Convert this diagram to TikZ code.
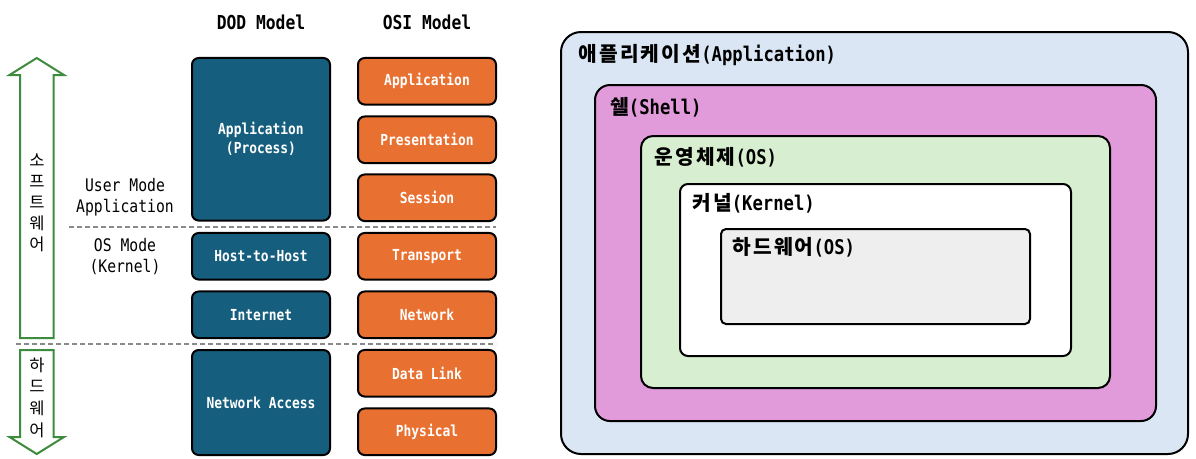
\documentclass[tikz,border=0pt]{standalone}
\usepackage{fontspec}
\setmainfont{DejaVu Sans Mono}[FakeStretch=0.85]
\newfontfamily\korfont{Noto Sans CJK KR}
\newfontfamily\korwide{Noto Sans CJK KR}[LetterSpace=11]
\newcommand\kor[1]{{\korwide #1}}
\definecolor{dodblue}{HTML}{165E7E}
\definecolor{osiorange}{HTML}{E87030}
\definecolor{arrowgreen}{HTML}{3D8B3D}
\definecolor{sepgray}{HTML}{8A8A8A}
\definecolor{appblue}{HTML}{DAE6F3}
\definecolor{shellpink}{HTML}{E19ADA}
\definecolor{osgreen}{HTML}{D7EFD0}
\definecolor{hwgray}{HTML}{EEEEEE}
\tikzset{
  layerbox/.style={draw=black, line width=1.5pt, rounded corners=5pt, minimum width=103.5pt,
    minimum height=34.9pt, inner sep=0pt, text=white, align=center,
    font=\fontsize{11.4}{14.25}\selectfont\bfseries},
  dodbox/.style={layerbox, fill=dodblue},
  osibox/.style={layerbox, fill=osiorange},
  header/.style={font=\fontsize{14.4}{17}\selectfont\bfseries},
  modetext/.style={align=center, font=\fontsize{13}{15.75}\selectfont},
  bigarrow/.style={draw=arrowgreen, line width=1.5pt, fill=white, line join=miter},
  sep/.style={draw=sepgray, line width=1.5pt, dash pattern=on 3.75pt off 2.25pt},
  nest/.style={draw=black, line width=1.5pt, inner sep=0pt},
  nestlabel/.style={anchor=west, inner sep=0pt, font=\fontsize{15.2}{18}\selectfont\bfseries},
}
\begin{document}
\begin{tikzpicture}[x=0.75pt, y=-0.75pt]
\useasboundingbox (0,0) rectangle (1196,458);

% headers
\node[header] (dodh) at (261,22) {DOD Model};
\node[header] (osih) at (427,22) {OSI Model};

% DOD boxes
\node[dodbox, minimum height=121.9pt] (dapp) at (261,139.25) {Application\\(Process)};
\node[dodbox] (dhost) at (261,256.25) {Host-to-Host};
\node[dodbox] (dinet) at (261,314.75) {Internet};
\node[dodbox, minimum height=78.75pt] (dnet) at (261,402.5) {Network Access};

% OSI boxes
\node[osibox] (oapp) at (427,81.25) {Application};
\node[osibox] (opres) at (427,139.75) {Presentation};
\node[osibox] (osess) at (427,197.75) {Session};
\node[osibox] (otrans) at (427,256.25) {Transport};
\node[osibox] (onet) at (427,314.75) {Network};
\node[osibox] (olink) at (427,373.25) {Data Link};
\node[osibox] (ophys) at (427,431.75) {Physical};

% separators
\draw[sep] (69,227) -- (496,227);
\draw[sep] (16,344) -- (496,344);

% mode texts
\node[modetext] (umode) at (125,197.5) {User Mode\\Application};
\node[modetext] (kmode) at (125,256.5) {OS Mode\\(Kernel)};

% arrows
\draw[bigarrow] (20,338) -- (20,75) -- (9.5,75) -- (36.75,58) -- (64,75) -- (53.5,75) -- (53.5,338) -- cycle;
\draw[bigarrow] (20,350) -- (20,437) -- (9.5,437) -- (36.75,454) -- (64,437) -- (53.5,437) -- (53.5,350) -- cycle;
\node[align=center, inner sep=0pt, font=\korfont\fontsize{12.4}{15.75}\selectfont] (sw) at (37,202.5) {소\\프\\트\\웨\\어};
\node[align=center, inner sep=0pt, font=\korfont\fontsize{12.4}{16.3}\selectfont] (hw) at (37,397.5) {하\\드\\웨\\어};

% nested boxes
\node[nest, fill=appblue, rounded corners=15pt, minimum width=470.25pt, minimum height=316.5pt] (appl) at (874.5,243) {};
\node[nest, fill=shellpink, rounded corners=11.25pt, minimum width=420.75pt, minimum height=252pt] (shell) at (875.5,253) {};
\node[nest, fill=osgreen, rounded corners=9pt, minimum width=351.75pt, minimum height=189pt] (os) at (875.5,262) {};
\node[nest, fill=white, rounded corners=6pt, minimum width=293.25pt, minimum height=129pt] (kern) at (875.5,270) {};
\node[nest, fill=hwgray, rounded corners=3.75pt, minimum width=231.75pt, minimum height=71.25pt] (hwbox) at (875.5,276.5) {};

\node[nestlabel] (lappl) at (578,55) {\kor{애플리케이션}(Application)};
\node[nestlabel] (lshell) at (610,107) {\kor{쉘}(Shell)};
\node[nestlabel] (los) at (654,157) {\kor{운영체제}(OS)};
\node[nestlabel] (lkern) at (692,203) {\kor{커널}(Kernel)};
\node[nestlabel] (lhw) at (732,247) {\kor{하드웨어}(OS)};
\end{tikzpicture}
\end{document}
